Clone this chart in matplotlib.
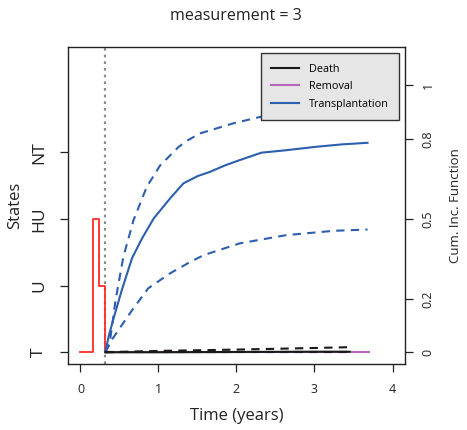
import matplotlib
matplotlib.use("Agg")
import matplotlib.pyplot as plt
from matplotlib.lines import Line2D

plt.rcParams['font.family'] = ['Open Sans', 'DejaVu Sans']

# state path of the patient (time in years, state index)
state_names = ["T", "U", "HU", "NT"]
state_pos = [0.0, 0.25, 0.5, 0.75]
path_times = [0.0, 0.157, 0.234, 0.32]
path_states = [0, 2, 1, 0]
landmark = 0.32

# cumulative incidence: transplantation
tx_t = [0.32, 0.36, 0.43, 0.53, 0.66, 0.79, 0.94, 1.15, 1.32, 1.50, 1.66, 1.85,
        2.04, 2.32, 2.60, 3.02, 3.35, 3.68]
tx_cif = [0.0, 0.058, 0.133, 0.233, 0.352, 0.427, 0.502, 0.577, 0.633, 0.660,
          0.676, 0.700, 0.720, 0.748, 0.756, 0.770, 0.779, 0.785]
tx_up_t = [0.32, 0.38, 0.45, 0.55, 0.68, 0.85, 1.02, 1.26, 1.38, 1.53, 1.96,
           2.32, 2.60, 3.10, 3.68]
tx_up = [0.0, 0.046, 0.196, 0.358, 0.495, 0.620, 0.700, 0.770, 0.795, 0.820,
         0.858, 0.883, 0.900, 0.920, 0.935]
tx_lo_t = [0.32, 0.40, 0.575, 0.68, 0.87, 1.15, 1.41, 1.58, 2.04, 2.64, 3.24, 3.68]
tx_lo = [0.0, 0.046, 0.121, 0.165, 0.240, 0.296, 0.339, 0.364, 0.408, 0.439,
         0.455, 0.460]

# cumulative incidence: death
death_t = [0.32, 1.0, 2.0, 3.0, 3.45]
death_cif = [0.0, 0.0, 0.001, 0.002, 0.002]
death_up = [0.0, 0.005, 0.010, 0.016, 0.019]
death_lo = [0.0, 0.0, 0.0, 0.0, 0.0]

# cumulative incidence: removal
rem_t = [0.32, 3.70]
rem_cif = [0.0, 0.0]

cif_ticks = [0, 0.2, 0.5, 0.8, 1]
cif_labels = ["0", "0.2", "0.5", "0.8", "1"]
x_ticks = [0, 1, 2, 3, 4]

c_tx = "#2c5fae"
c_rem = "#b568bb"
c_death = "#1a1a1a"
dash = (0, (4, 3))

fig = plt.figure(figsize=(4.67, 4.30), dpi=100)
ax = fig.add_axes([0.1456, 0.1535, 0.7216, 0.7372])

ax.axvline(landmark, color="#8c8c8c", linestyle=(0, (1.2, 1.8)), lw=1.6, zorder=1)
ax.step(path_times, [state_pos[s] for s in path_states], where="post",
        color="#ff2a2a", lw=1.3, zorder=2)

ax.plot(rem_t, rem_cif, color=c_rem, lw=1.5, zorder=3)
ax.plot(rem_t, rem_cif, color=c_rem, lw=1.5, ls=dash, zorder=3)
ax.plot(death_t, death_cif, color=c_death, lw=1.5, zorder=4)
ax.plot(death_t, death_up, color=c_death, lw=1.5, ls=dash, zorder=4)
ax.plot(death_t, death_lo, color=c_death, lw=1.5, ls=dash, zorder=4)
ax.plot(tx_t, tx_cif, color=c_tx, lw=1.5, zorder=3)
ax.plot(tx_up_t, tx_up, color=c_tx, lw=1.5, ls=dash, zorder=3)
ax.plot(tx_lo_t, tx_lo, color=c_tx, lw=1.5, ls=dash, zorder=3)

ax.set_xlim(-0.16, 4.16)
ax.set_ylim(-0.044, 1.144)
ax.set_xticks(x_ticks)
ax.set_xticklabels([str(v) for v in x_ticks])
ax.set_yticks(state_pos)
ax.set_yticklabels(state_names, rotation=90, va="center", fontsize=12.5)
ax.tick_params(axis="x", labelsize=9, length=6, width=0.9, pad=8, colors="#222222")
ax.tick_params(axis="y", length=6, width=0.9, pad=9, colors="#222222")
for sp in ax.spines.values():
    sp.set_linewidth(1.0)
    sp.set_color("#222222")

ax2 = ax.twinx()
ax2.set_ylim(ax.get_ylim())
ax2.set_yticks(cif_ticks)
ax2.set_yticklabels(cif_labels, rotation=90, va="center", fontsize=9)
ax2.tick_params(axis="y", length=6, width=0.9, pad=6, colors="#222222")
for sp in ax2.spines.values():
    sp.set_visible(False)

ax.set_xlabel("Time (years)", fontsize=12, labelpad=8, color="#222222")
ax.set_ylabel("States", fontsize=12, labelpad=6, color="#222222")
ax2.set_ylabel("Cum. Inc. Function", fontsize=9.5, labelpad=10, color="#222222")
fig.text(0.505, 0.962, "measurement = 3", ha="center", va="center",
         fontsize=11.5, color="#222222")

handles = [Line2D([], [], color=c_death, lw=1.5),
           Line2D([], [], color=c_rem, lw=1.5),
           Line2D([], [], color=c_tx, lw=1.5)]
leg = ax2.legend(handles, ["Death", "Removal", "Transplantation"],
                 loc="upper right", bbox_to_anchor=(0.983, 0.980),
                 borderaxespad=0, fontsize=7.8, frameon=True, fancybox=False,
                 handlelength=2.6, handletextpad=0.9, labelspacing=0.6,
                 borderpad=0.95, edgecolor="#333333", facecolor="#e6e6e6",
                 framealpha=1)
leg.get_frame().set_linewidth(1.0)
leg.set_zorder(10)

fig.savefig("out.png", dpi=100)
